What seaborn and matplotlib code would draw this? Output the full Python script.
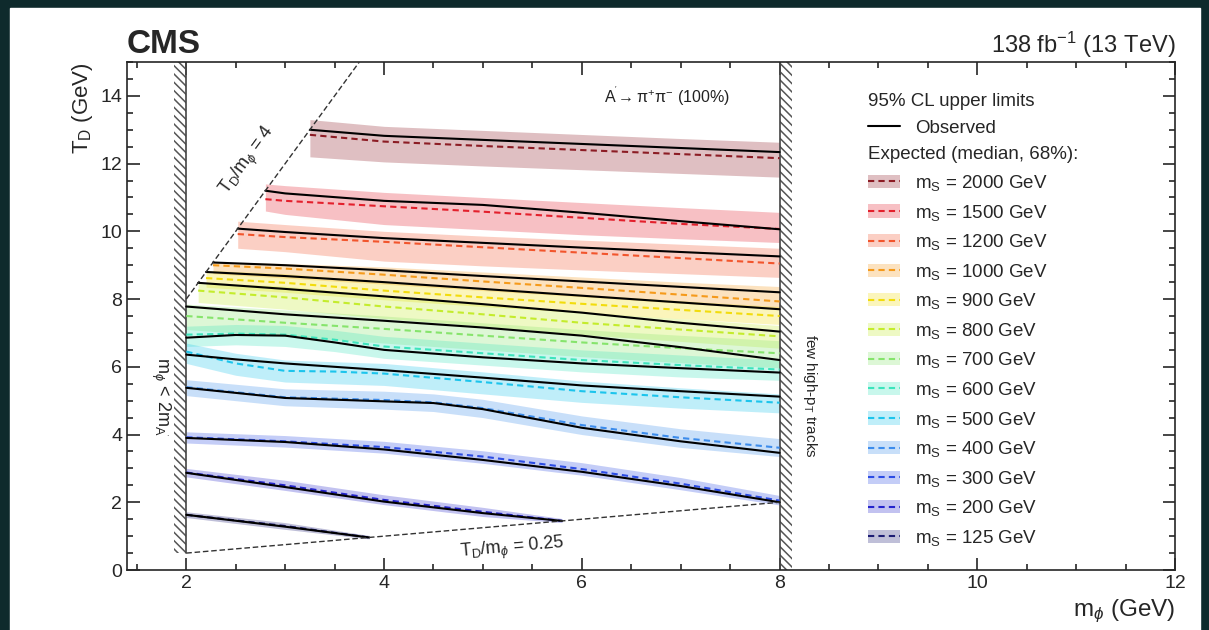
import numpy as np
import pandas as pd
import seaborn as sns
import matplotlib.pyplot as plt
from matplotlib.patches import Patch, Rectangle
from matplotlib.lines import Line2D
from matplotlib.ticker import MultipleLocator

# scalar mediator masses (GeV) and their colours
masses = [2000, 1500, 1200, 1000, 900, 800, 700, 600, 500, 400, 300, 200, 125]
colors = ['#8c1c24', '#e3202c', '#f2552c', '#f59a1b', '#f2dc0c', '#c4ec2c', '#86e46c',
          '#3ce4bc', '#1cc4ec', '#3c8cec', '#2c4ce4', '#2424cc', '#1c1c74']

# m_phi points for each curve
m_phi = {
    2000: [3.25, 4, 5, 6, 7, 8],
    1500: [2.8, 3, 4, 5, 6, 7, 8],
    1200: [2.52, 3, 4, 5, 6, 7, 8],
    1000: [2.27, 3, 4, 5, 6, 7, 8],
    900: [2.2, 3, 4, 5, 6, 7, 8],
    800: [2.12, 3, 4, 5, 6, 7, 8],
    700: [2, 3, 4, 5, 6, 7, 8],
    600: [2, 2.5, 3, 3.5, 4, 5, 6, 7, 8],
    500: [2, 2.5, 3, 3.5, 4, 5, 6, 7, 8],
    400: [2, 3, 4, 4.5, 5, 6, 7, 8],
    300: [2, 3, 4, 5, 6, 7, 8],
    200: [2, 3, 4, 5, 5.8],
    125: [2, 3, 3.85],
}
# observed limits on T_D (GeV)
observed = {
    2000: [13.0, 12.82, 12.7, 12.58, 12.46, 12.34],
    1500: [11.2, 11.12, 10.9, 10.78, 10.55, 10.3, 10.06],
    1200: [10.08, 9.98, 9.8, 9.66, 9.52, 9.39, 9.26],
    1000: [9.08, 9.0, 8.85, 8.68, 8.52, 8.36, 8.2],
    900: [8.8, 8.68, 8.5, 8.3, 8.1, 7.9, 7.7],
    800: [8.48, 8.3, 8.08, 7.85, 7.6, 7.3, 7.04],
    700: [7.78, 7.55, 7.36, 7.16, 6.92, 6.58, 6.2],
    600: [6.86, 6.94, 6.92, 6.72, 6.5, 6.28, 6.1, 5.96, 5.83],
    500: [6.36, 6.22, 6.1, 6.0, 5.9, 5.68, 5.45, 5.28, 5.12],
    400: [5.38, 5.08, 4.98, 4.93, 4.75, 4.2, 3.8, 3.46],
    300: [3.9, 3.78, 3.56, 3.25, 2.9, 2.48, 2.0],
    200: [2.87, 2.45, 2.02, 1.68, 1.45],
    125: [1.63, 1.28, 0.96],
}
# expected median limits
expected = {
    2000: [12.85, 12.65, 12.52, 12.4, 12.28, 12.16],
    1500: [10.95, 10.9, 10.74, 10.58, 10.4, 10.22, 10.07],
    1200: [9.92, 9.83, 9.69, 9.53, 9.37, 9.21, 9.05],
    1000: [9.0, 8.9, 8.72, 8.52, 8.33, 8.13, 7.93],
    900: [8.62, 8.48, 8.25, 8.05, 7.86, 7.68, 7.5],
    800: [8.25, 8.05, 7.78, 7.55, 7.3, 7.1, 6.9],
    700: [7.5, 7.3, 7.12, 6.92, 6.72, 6.55, 6.4],
    600: [6.95, 6.98, 6.95, 6.8, 6.6, 6.4, 6.2, 6.05, 5.92],
    500: [6.45, 6.1, 5.88, 5.86, 5.8, 5.55, 5.28, 5.1, 4.94],
    400: [5.4, 5.1, 5.02, 4.95, 4.78, 4.28, 3.9, 3.61],
    300: [3.92, 3.8, 3.63, 3.35, 2.98, 2.55, 2.05],
    200: [2.88, 2.5, 2.07, 1.72, 1.45],
    125: [1.63, 1.3, 0.96],
}
# 68% expected band
band_lo = {
    2000: [12.2, 12.05, 11.93, 11.82, 11.71, 11.6],
    1500: [10.6, 10.5, 10.2, 10.05, 9.9, 9.78, 9.67],
    1200: [9.5, 9.4, 9.12, 8.98, 8.86, 8.75, 8.64],
    1000: [8.75, 8.62, 8.44, 8.25, 8.07, 7.88, 7.7],
    900: [8.35, 8.2, 7.98, 7.78, 7.6, 7.42, 7.25],
    800: [7.9, 7.7, 7.43, 7.2, 6.95, 6.75, 6.55],
    700: [7.1, 6.9, 6.7, 6.5, 6.3, 6.12, 5.97],
    600: [6.6, 6.65, 6.6, 6.45, 6.25, 6.05, 5.85, 5.7, 5.6],
    500: [6.1, 5.75, 5.55, 5.5, 5.45, 5.2, 4.95, 4.78, 4.64],
    400: [5.15, 4.85, 4.75, 4.68, 4.5, 4.0, 3.62, 3.35],
    300: [3.75, 3.63, 3.45, 3.15, 2.8, 2.37, 1.92],
    200: [2.75, 2.35, 1.93, 1.58, 1.4],
    125: [1.55, 1.2, 0.92],
}
band_hi = {
    2000: [13.3, 13.1, 12.98, 12.86, 12.74, 12.63],
    1500: [11.4, 11.35, 11.15, 11.0, 10.85, 10.7, 10.56],
    1200: [10.3, 10.2, 10.0, 9.86, 9.74, 9.62, 9.5],
    1000: [9.1, 9.05, 8.95, 8.8, 8.65, 8.5, 8.37],
    900: [8.85, 8.75, 8.52, 8.32, 8.14, 7.95, 7.78],
    800: [8.5, 8.38, 8.1, 7.86, 7.62, 7.42, 7.22],
    700: [7.85, 7.68, 7.5, 7.3, 7.1, 6.93, 6.77],
    600: [7.2, 7.25, 7.22, 7.08, 6.9, 6.7, 6.5, 6.35, 6.2],
    500: [6.7, 6.4, 6.2, 6.15, 6.1, 5.85, 5.58, 5.38, 5.2],
    400: [5.62, 5.35, 5.28, 5.2, 5.04, 4.55, 4.17, 3.88],
    300: [4.08, 3.97, 3.8, 3.52, 3.17, 2.73, 2.2],
    200: [3.0, 2.65, 2.22, 1.85, 1.52],
    125: [1.72, 1.4, 1.02],
}

rows = []
for ms in masses:
    for x, o, e in zip(m_phi[ms], observed[ms], expected[ms]):
        rows.append({'mS': ms, 'm_phi': x, 'obs': o, 'exp': e})
df = pd.DataFrame(rows)

sns.set_theme(style='ticks')
plt.rcParams['font.family'] = ['Liberation Sans', 'DejaVu Sans']
plt.rcParams['mathtext.fontset'] = 'custom'
plt.rcParams['mathtext.rm'] = 'Liberation Sans'
plt.rcParams['mathtext.it'] = 'Liberation Sans:italic'
plt.rcParams['hatch.linewidth'] = 1.1

fig = plt.figure(figsize=(12.09, 6.30), dpi=100, facecolor='#0e2a2c')
fig.patches.append(Rectangle((10 / 1209, 0), 1190 / 1209, 1 - 8 / 630,
                             transform=fig.transFigure, facecolor='white', zorder=-5))
ax = fig.add_axes([0.105, 0.0952, 0.867, 0.8064])
ax.set_facecolor('white')

# 68% bands
for ms, c in zip(masses, colors):
    ax.fill_between(m_phi[ms], band_lo[ms], band_hi[ms], color=c, alpha=0.28, lw=0, zorder=1)

palette = dict(zip(masses, colors))
sns.lineplot(data=df, x='m_phi', y='exp', hue='mS', palette=palette, units='mS', estimator=None,
             sort=False, legend=False, linestyle=(0, (3, 2)), lw=1.5, ax=ax, zorder=3)
sns.lineplot(data=df, x='m_phi', y='obs', units='mS', estimator=None, sort=False,
             color='black', lw=1.5, ax=ax, zorder=4)

# kinematic boundaries
ratio_hi, ratio_lo = 4.0, 0.25
xb = np.array([2.0, 15.0 / ratio_hi])
ax.plot(xb, ratio_hi * xb, color='#333333', ls=(0, (4, 2)), lw=1.0, zorder=5)
xl = np.array([2.0, 8.0])
ax.plot(xl, ratio_lo * xl, color='#333333', ls=(0, (4, 2)), lw=1.0, zorder=5)

# hatched exclusion edges
ax.fill_betweenx([0.5, 15], 1.88, 2.0, facecolor='none', edgecolor='#555555', hatch='\\\\\\\\', lw=0)
ax.plot([2, 2], [0.5, 15], color='#444444', lw=1.2)
ax.fill_betweenx([0, 15], 8.0, 8.13, facecolor='none', edgecolor='#555555', hatch='\\\\\\\\', lw=0)
ax.plot([8, 8], [0, 15], color='#444444', lw=1.2)

ax.set_xlim(1.4, 12)
ax.set_ylim(0, 15)
ax.xaxis.set_major_locator(MultipleLocator(2))
ax.xaxis.set_minor_locator(MultipleLocator(0.5))
ax.yaxis.set_major_locator(MultipleLocator(2))
ax.yaxis.set_minor_locator(MultipleLocator(0.5))
ax.tick_params(which='both', direction='in', top=True, right=True, labelsize=14, width=1.2)
ax.tick_params(which='major', length=9)
ax.tick_params(which='minor', length=4.5)
for s in ax.spines.values():
    s.set_linewidth(1.2)
ax.set_xlabel(r'm$_{\phi}$ (GeV)', fontsize=17.5, loc='right')
ax.set_ylabel(r'T$_{\mathrm{D}}$ (GeV)', fontsize=16, loc='top')

ax.text(0.0, 1.018, 'CMS', transform=ax.transAxes, fontsize=24, fontweight='bold', va='baseline')
ax.text(1.0, 1.018, r'138 fb$^{-1}$ (13 TeV)', transform=ax.transAxes, fontsize=17,
        ha='right', va='baseline')
ax.text(6.86, 14.0, r"A$^{'}\!\rightarrow\mathrm{\pi}^{+}\mathrm{\pi}^{-}$ (100%)", fontsize=11.5,
        ha='center', va='center', color='#222222')
ax.text(2.63, 12.1, r'T$_{\mathrm{D}}$/m$_{\phi}$ = 4', fontsize=13, rotation=54,
        ha='center', va='center')
ax.text(5.3, 0.62, r'T$_{\mathrm{D}}$/m$_{\phi}$ = 0.25', fontsize=13, rotation=5,
        ha='center', va='center')
ax.text(1.74, 5.1, r"m$_{\phi}$ < 2m$_{\mathrm{A}^{'}}$", fontsize=13, rotation=-90,
        ha='center', va='center')
ax.text(8.31, 5.15, r'few high-p$_{\mathrm{T}}$ tracks', fontsize=11, rotation=-90,
        ha='center', va='center')

# legend: every row gets a (possibly invisible) patch so rows share one height
blank = Patch(facecolor='none', edgecolor='none')
handles = [blank, (blank, Line2D([], [], color='black', lw=1.5)), blank]
labels = ['95% CL upper limits', 'Observed', 'Expected (median, 68%):']
for ms, c in zip(masses, colors):
    handles.append((Patch(facecolor=c, alpha=0.28, lw=0),
                    Line2D([], [], color=c, ls=(0, (3, 2)), lw=1.5)))
    labels.append(f'm$_{{\\mathrm{{S}}}}$ = {ms} GeV')
leg_fs = 13.5
hl, htp = 1.7, 0.8
leg = ax.legend(handles, labels, loc='upper left', bbox_to_anchor=(0.707, 0.939),
                frameon=False, fontsize=leg_fs, handlelength=hl, handletextpad=htp,
                labelspacing=0.51, borderaxespad=0, borderpad=0)

# move header rows to start at the handle column
fig.canvas.draw()
shift = (hl + htp) * leg_fs * fig.dpi / 72
for i in (0, 2):
    t = leg.get_texts()[i]
    bb = t.get_window_extent()
    fig.text(bb.x0 - shift, (bb.y0 + bb.y1) / 2, t.get_text(), transform=None,
             fontsize=leg_fs, va='center', ha='left')
    t.set_text('')

plt.savefig('out.png', dpi=100, facecolor=fig.get_facecolor())
